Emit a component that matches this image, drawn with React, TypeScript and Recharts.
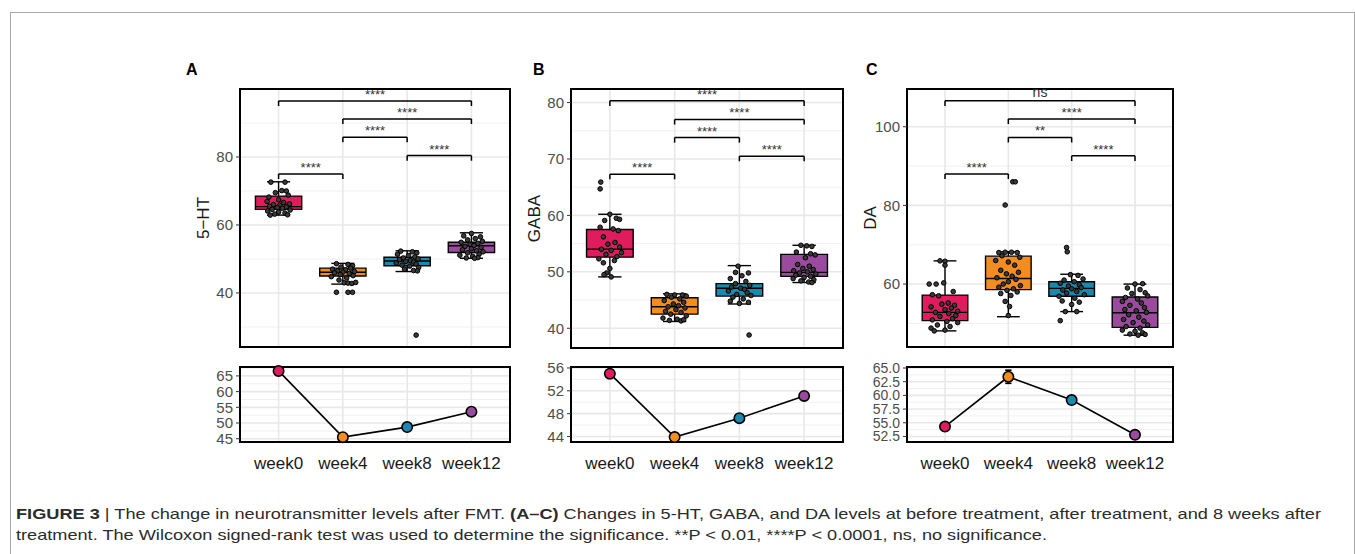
import React from 'react';
import {
  ComposedChart, Scatter, XAxis, YAxis, CartesianGrid, ReferenceArea,
  ReferenceLine, ReferenceDot, Line,
} from 'recharts';

// ---------- data ----------
const categories = ['week0', 'week4', 'week8', 'week12'];
const groupColors = ['#E01B5E', '#F38D1F', '#1C88AD', '#9B4B9D'];

// box stats per group: [lower whisker, q1, median, q3, upper whisker]
const box5HT = [[62.9, 64.6, 65.4, 68.5, 72.7], [42.6, 45.0, 46.1, 47.3, 48.7], [46.3, 48.0, 49.4, 50.5, 52.4], [50.2, 51.9, 53.9, 54.9, 57.7]];
const boxGABA = [[49.1, 52.6, 54.0, 57.5, 60.2], [41.2, 42.5, 43.8, 45.4, 46.1], [44.3, 45.7, 47.1, 47.9, 51.1], [48.1, 49.2, 49.9, 53.1, 54.7]];
const boxDA = [[48.1, 50.7, 52.8, 57.2, 65.9], [51.7, 58.6, 61.4, 67.1, 68.2], [53.0, 56.9, 58.9, 60.6, 62.5], [47.0, 49.0, 52.7, 56.7, 60.0]];

// jittered observations per group: [jitter (category units), value]
const pts5HT = [
  [[-0.12, 72.6], [0.1, 72.6], [0.05, 70.1], [0.12, 70.0], [-0.05, 69.5], [0.15, 68.8], [-0.15, 68.2], [0.0, 67.4], [-0.18, 66.9], [0.08, 66.6], [0.17, 66.2], [-0.08, 66.0], [0.02, 65.8], [-0.14, 65.5], [0.12, 65.3], [-0.02, 65.1], [0.06, 64.9], [-0.1, 64.6], [0.18, 64.4], [-0.17, 64.1], [0.0, 63.8], [0.1, 63.5], [-0.06, 63.2], [0.14, 63.0], [-0.13, 62.9]],
  [[-0.1, 48.6], [0.08, 48.4], [0.15, 48.0], [-0.03, 47.6], [0.12, 47.3], [-0.16, 47.0], [0.04, 46.8], [-0.08, 46.5], [0.18, 46.3], [0.0, 46.1], [-0.13, 45.9], [0.1, 45.7], [-0.04, 45.4], [0.16, 45.1], [-0.18, 44.8], [0.06, 44.4], [-0.06, 43.8], [0.02, 43.0], [0.08, 42.9], [0.14, 42.8], [0.2, 43.1], [-0.1, 40.2], [0.08, 40.2], [0.15, 40.2]],
  [[-0.1, 52.3], [0.08, 52.1], [0.15, 51.8], [-0.15, 51.4], [0.02, 51.0], [0.12, 50.6], [-0.06, 50.3], [0.17, 50.0], [-0.12, 49.8], [0.05, 49.5], [-0.02, 49.3], [0.1, 49.1], [-0.17, 48.8], [0.14, 48.5], [-0.08, 48.2], [0.04, 47.9], [0.18, 47.5], [-0.04, 47.0], [0.1, 46.6], [0.16, 46.5], [0.14, 27.6]],
  [[0.0, 57.5], [-0.12, 56.8], [0.14, 56.5], [0.06, 56.0], [-0.06, 55.6], [0.17, 55.2], [-0.16, 54.9], [0.1, 54.6], [-0.02, 54.3], [0.04, 54.0], [-0.1, 53.7], [0.15, 53.4], [0.0, 53.0], [-0.14, 52.7], [0.08, 52.4], [0.18, 52.1], [-0.06, 51.8], [0.12, 51.4], [-0.18, 51.1], [0.02, 50.8], [0.1, 50.4], [-0.08, 50.3], [0.05, 50.2]],
];
const ptsGABA = [
  [[-0.14, 65.9], [-0.15, 64.7], [0.0, 60.2], [0.1, 59.5], [0.15, 59.3], [-0.08, 59.1], [-0.15, 57.9], [0.05, 57.6], [0.13, 57.3], [-0.1, 56.2], [0.08, 55.2], [-0.03, 54.9], [0.15, 54.4], [-0.13, 54.0], [0.02, 53.8], [0.18, 53.4], [-0.06, 53.1], [0.11, 52.7], [-0.17, 52.3], [0.07, 52.0], [-0.1, 51.6], [0.0, 50.6], [-0.05, 49.8], [-0.09, 49.5], [0.02, 49.1]],
  [[-0.12, 46.0], [0.0, 45.9], [0.12, 45.9], [0.18, 45.7], [-0.05, 45.5], [0.08, 45.2], [-0.16, 44.9], [0.14, 44.6], [-0.02, 44.3], [0.06, 44.0], [-0.1, 43.8], [0.16, 43.6], [0.02, 43.3], [-0.14, 43.0], [0.1, 42.8], [-0.06, 42.5], [0.18, 42.2], [-0.18, 41.8], [0.04, 41.6], [-0.08, 41.4], [0.1, 41.3], [0.14, 41.5]],
  [[-0.02, 51.0], [-0.06, 49.9], [0.14, 49.8], [0.04, 49.3], [-0.14, 48.8], [0.1, 48.3], [-0.06, 47.9], [0.16, 47.6], [-0.12, 47.3], [0.02, 47.1], [0.08, 46.9], [-0.17, 46.6], [0.12, 46.3], [-0.04, 46.0], [0.18, 45.8], [-0.1, 45.5], [0.06, 45.2], [-0.14, 44.8], [0.14, 44.6], [0.0, 44.4], [0.15, 38.8]],
  [[-0.05, 54.7], [0.04, 54.6], [0.12, 54.5], [-0.12, 53.5], [0.1, 53.2], [0.17, 53.0], [0.02, 52.5], [-0.1, 51.3], [0.08, 51.0], [-0.02, 50.6], [0.14, 50.4], [-0.16, 50.2], [0.05, 50.0], [-0.07, 49.8], [0.18, 49.6], [-0.13, 49.4], [0.1, 49.2], [0.0, 49.0], [-0.17, 48.8], [0.15, 48.6], [-0.05, 48.4], [0.07, 48.2], [0.12, 48.1]],
];
const ptsDA = [
  [[-0.08, 65.9], [0.0, 65.8], [0.0, 64.8], [-0.25, 60.0], [-0.14, 60.0], [-0.02, 60.3], [0.13, 58.1], [-0.2, 57.3], [-0.1, 57.0], [0.05, 55.2], [-0.05, 54.9], [0.15, 54.6], [-0.22, 54.2], [0.1, 53.9], [0.0, 53.5], [0.2, 53.1], [-0.15, 52.8], [0.06, 52.5], [0.17, 52.0], [-0.08, 51.8], [0.12, 51.2], [-0.2, 50.9], [0.03, 50.5], [0.2, 50.2], [-0.12, 49.6], [0.08, 49.2], [-0.22, 48.8], [0.0, 48.3], [-0.17, 48.1]],
  [[0.07, 86.0], [0.11, 86.0], [-0.05, 80.1], [-0.15, 68.0], [-0.05, 68.1], [0.05, 68.1], [0.14, 68.0], [-0.1, 67.2], [0.18, 66.8], [-0.2, 66.0], [0.0, 65.6], [0.1, 64.8], [-0.12, 63.5], [0.16, 63.0], [-0.03, 62.6], [0.06, 62.0], [-0.18, 61.6], [0.12, 61.2], [0.0, 60.6], [-0.08, 60.0], [0.19, 59.6], [-0.15, 59.2], [0.08, 58.8], [-0.02, 58.4], [0.14, 58.0], [-0.12, 57.6], [0.04, 57.1], [-0.05, 55.6], [0.02, 54.3], [0.0, 52.0]],
  [[-0.08, 69.3], [-0.07, 68.2], [-0.02, 62.4], [0.1, 62.2], [0.18, 61.3], [-0.12, 61.0], [0.04, 60.6], [-0.18, 60.2], [0.12, 59.8], [-0.05, 59.5], [0.15, 59.1], [0.0, 58.8], [-0.14, 58.5], [0.08, 58.1], [-0.08, 57.7], [0.2, 57.3], [-0.2, 56.9], [0.05, 56.4], [0.12, 55.4], [-0.15, 55.7], [0.0, 54.8], [-0.1, 53.0], [0.08, 53.0], [-0.18, 50.7]],
  [[0.0, 60.0], [0.12, 60.1], [-0.12, 59.0], [0.08, 58.6], [0.16, 57.8], [-0.05, 57.6], [0.2, 57.0], [-0.15, 56.6], [0.04, 56.2], [-0.2, 55.6], [0.1, 55.2], [-0.08, 54.6], [0.15, 54.0], [-0.16, 53.5], [0.02, 53.2], [0.18, 52.8], [-0.1, 52.2], [0.06, 51.6], [-0.18, 51.0], [0.14, 50.6], [-0.03, 50.2], [0.2, 49.6], [-0.14, 49.2], [0.08, 48.8], [-0.2, 48.3], [0.0, 48.0], [0.12, 47.6], [-0.08, 47.3], [0.05, 47.0], [0.16, 47.2]],
];

// significance brackets: [from group, to group, bracket value, label]
const sig5HT = [[1, 2, 75.0, '****'], [1, 4, 96.5, '****'], [2, 4, 91.2, '****'], [2, 3, 85.8, '****'], [3, 4, 80.4, '****']];
const sigGABA = [[1, 2, 67.3, '****'], [1, 4, 80.3, '****'], [2, 4, 77.0, '****'], [2, 3, 73.8, '****'], [3, 4, 70.5, '****']];
const sigDA = [[1, 2, 88.0, '****'], [1, 4, 106.6, 'ns'], [2, 4, 102.0, '****'], [2, 3, 97.3, '**'], [3, 4, 92.6, '****']];

// group means with error
const mean5HT = [66.6, 45.5, 48.7, 53.6];
const err5HT = [0.6, 0.5, 0.5, 0.5];
const meanGABA = [55.0, 43.9, 47.2, 51.1];
const errGABA = [0.5, 0.3, 0.4, 0.4];
const meanDA = [54.3, 63.4, 59.15, 52.8];
const errDA = [0.7, 1.2, 0.5, 0.6];

// axis settings
const ticksTop5HT = [40, 60, 80];
const minorTop5HT = [30, 50, 70, 90];
const ticksTopGABA = [40, 50, 60, 70, 80];
const minorTopGABA = [45, 55, 65, 75];
const ticksTopDA = [60, 80, 100];
const minorTopDA = [50, 70, 90];
const ticksBot5HT = [45, 50, 55, 60, 65];
const minorBot5HT = [47.5, 52.5, 57.5, 62.5, 67.5];
const ticksBotGABA = [44, 48, 52, 56];
const minorBotGABA = [46, 50, 54];
const ticksBotDA = [52.5, 55, 57.5, 60, 62.5, 65];
const minorBotDA = [53.75, 56.25, 58.75, 61.25, 63.75];

const FONT = '"Liberation Sans", Arial, Helvetica, sans-serif';
const X_DOMAIN = [0.4, 4.6];
const GROUP_X = [1, 2, 3, 4];

const panels = [
  {
    letter: 'A', title: '5\u2212HT',
    top: { left: 240, top: 89, width: 270, height: 258 }, bottom: { left: 240, top: 367, width: 270, height: 75 },
    topDomain: [24.1, 100], topTicks: ticksTop5HT, topMinor: minorTop5HT,
    botDomain: [43.96, 67.84], botTicks: ticksBot5HT, botMinor: minorBot5HT, botFont: 15,
    box: box5HT, pts: pts5HT, sig: sig5HT, tip: 1.5, mean: mean5HT, err: err5HT, fmt: (v) => String(v),
    letterX: 186,
  },
  {
    letter: 'B', title: 'GABA',
    top: { left: 571, top: 89, width: 272, height: 259 }, bottom: { left: 571, top: 367, width: 272, height: 75 },
    topDomain: [36.5, 82.4], topTicks: ticksTopGABA, topMinor: minorTopGABA,
    botDomain: [43.03, 56.17], botTicks: ticksBotGABA, botMinor: minorBotGABA, botFont: 15,
    box: boxGABA, pts: ptsGABA, sig: sigGABA, tip: 0.9, mean: meanGABA, err: errGABA, fmt: (v) => String(v),
    letterX: 533,
  },
  {
    letter: 'C', title: 'DA',
    top: { left: 907, top: 89, width: 266, height: 258 }, bottom: { left: 907, top: 367, width: 266, height: 75 },
    topDomain: [44, 109.6], topTicks: ticksTopDA, topMinor: minorTopDA,
    botDomain: [51.49, 65.18], botTicks: ticksBotDA, botMinor: minorBotDA, botFont: 14,
    box: boxDA, pts: ptsDA, sig: sigDA, tip: 1.3, mean: meanDA, err: errDA, fmt: (v) => v.toFixed(1),
    letterX: 866,
  },
];

const AXIS_W = 70;
const BOX_HALF = 0.36;
const CAP_HALF = 0.18;
const ERR_CAP_HALF = 0.05;

const yTitle = (text) => (props) => {
  const vb = props.viewBox || {};
  const cx = vb.x + vb.width - 37;
  const cy = vb.y + vb.height / 2;
  return (
    <text x={cx} y={cy} transform={`rotate(-90 ${cx} ${cy})`} textAnchor="middle"
      dominantBaseline="central" fontSize={17} fill="#1a1a1a" fontFamily={FONT}>{text}</text>
  );
};

const pointShape = (props) => (
  <circle cx={props.cx} cy={props.cy} r={2.3} fill="#3a3a3a" stroke="#000" strokeWidth={1} />
);

const meanShape = (props) => (
  <circle cx={props.cx} cy={props.cy} r={5.2} fill={groupColors[props.index]} stroke="#000" strokeWidth={1.6} />
);

function TopPanel({ p }) {
  const r = p.top;
  const m = { top: 10, right: 10, bottom: 10, left: 0 };
  const data = p.pts.flatMap((grp, gi) => grp.map(([dx, y]) => ({ x: GROUP_X[gi] + dx, y })));
  const els = [];
  p.box.forEach(([lo, q1, med, q3, hi], i) => {
    const x = GROUP_X[i];
    els.push(<ReferenceLine key={`wl${i}`} segment={[{ x, y: lo }, { x, y: q1 }]} stroke="#000" strokeWidth={1.4} />);
    els.push(<ReferenceLine key={`wh${i}`} segment={[{ x, y: q3 }, { x, y: hi }]} stroke="#000" strokeWidth={1.4} />);
    els.push(<ReferenceLine key={`cl${i}`} segment={[{ x: x - CAP_HALF, y: lo }, { x: x + CAP_HALF, y: lo }]} stroke="#000" strokeWidth={1.4} />);
    els.push(<ReferenceLine key={`ch${i}`} segment={[{ x: x - CAP_HALF, y: hi }, { x: x + CAP_HALF, y: hi }]} stroke="#000" strokeWidth={1.4} />);
    els.push(<ReferenceArea key={`b${i}`} x1={x - BOX_HALF} x2={x + BOX_HALF} y1={q1} y2={q3} fill={groupColors[i]} fillOpacity={1} stroke="#000" strokeWidth={1.4} />);
    els.push(<ReferenceLine key={`m${i}`} segment={[{ x: x - BOX_HALF, y: med }, { x: x + BOX_HALF, y: med }]} stroke="#000" strokeWidth={1.4} />);
  });
  const sigEls = [];
  p.sig.forEach(([a, b, y, lab], i) => {
    sigEls.push(<ReferenceLine key={`sh${i}`} segment={[{ x: a, y }, { x: b, y }]} stroke="#000" strokeWidth={1.5} />);
    sigEls.push(<ReferenceLine key={`sa${i}`} segment={[{ x: a, y }, { x: a, y: y - p.tip }]} stroke="#000" strokeWidth={1.5} />);
    sigEls.push(<ReferenceLine key={`sb${i}`} segment={[{ x: b, y }, { x: b, y: y - p.tip }]} stroke="#000" strokeWidth={1.5} />);
    sigEls.push(<ReferenceDot key={`sl${i}`} x={(a + b) / 2} y={y} r={1} fill="none" stroke="none"
      label={{ value: lab, position: 'top', offset: lab === 'ns' ? 3 : 1, fontSize: lab === 'ns' ? 14 : 13, fill: '#333', fontFamily: FONT }} />);
  });
  return (
    <div style={{ position: 'absolute', left: r.left - AXIS_W - m.left, top: r.top - m.top }}>
      <ComposedChart width={r.width + AXIS_W + m.left + m.right} height={r.height + m.top + m.bottom} margin={m}>
        <CartesianGrid horizontalValues={p.topMinor} vertical={false} stroke="#f0f0f0" strokeWidth={1} />
        <CartesianGrid horizontalValues={p.topTicks} verticalValues={GROUP_X} stroke="#e8e8e8" strokeWidth={1.6} />
        <XAxis type="number" dataKey="x" domain={X_DOMAIN} hide allowDataOverflow />
        <YAxis type="number" dataKey="y" domain={p.topDomain} ticks={p.topTicks} interval={0} width={AXIS_W}
          allowDataOverflow axisLine={false} tickSize={4} tickMargin={3} tickLine={{ stroke: '#333' }}
          tick={{ fontSize: 15, fill: '#4d4d4d', fontFamily: FONT }} label={yTitle(p.title)} />
        {els}
        {sigEls}
        <Scatter data={data} dataKey="y" isAnimationActive={false} shape={pointShape} />
        <ReferenceArea x1={X_DOMAIN[0]} x2={X_DOMAIN[1]} y1={p.topDomain[0]} y2={p.topDomain[1]} fill="none" stroke="#000" strokeWidth={2} />
      </ComposedChart>
    </div>
  );
}

function BottomPanel({ p }) {
  const r = p.bottom;
  const xAxisH = 40;
  const m = { top: 10, right: 10, bottom: 0, left: 0 };
  const data = categories.map((c, i) => ({ x: GROUP_X[i], mean: p.mean[i], err: p.err[i] }));
  const errEls = [];
  data.forEach((d, i) => {
    const lo = d.mean - d.err;
    const hi = d.mean + d.err;
    errEls.push(<ReferenceLine key={`ev${i}`} segment={[{ x: d.x, y: lo }, { x: d.x, y: hi }]} stroke="#000" strokeWidth={1.6} />);
    errEls.push(<ReferenceLine key={`el${i}`} segment={[{ x: d.x - ERR_CAP_HALF, y: lo }, { x: d.x + ERR_CAP_HALF, y: lo }]} stroke="#000" strokeWidth={1.6} />);
    errEls.push(<ReferenceLine key={`eh${i}`} segment={[{ x: d.x - ERR_CAP_HALF, y: hi }, { x: d.x + ERR_CAP_HALF, y: hi }]} stroke="#000" strokeWidth={1.6} />);
  });
  return (
    <div style={{ position: 'absolute', left: r.left - AXIS_W - m.left, top: r.top - m.top }}>
      <ComposedChart data={data} width={r.width + AXIS_W + m.left + m.right} height={r.height + m.top + m.bottom + xAxisH} margin={m}>
        <CartesianGrid horizontalValues={p.botMinor} vertical={false} stroke="#f0f0f0" strokeWidth={1} />
        <CartesianGrid horizontalValues={p.botTicks} verticalValues={GROUP_X} stroke="#e8e8e8" strokeWidth={1.6} />
        <XAxis type="number" dataKey="x" domain={X_DOMAIN} ticks={GROUP_X} interval={0} allowDataOverflow height={xAxisH}
          axisLine={false} tickLine={false} tickMargin={9}
          tickFormatter={(v) => categories[v - 1]} tick={{ fontSize: 17, fill: '#1a1a1a', fontFamily: FONT }} />
        <YAxis type="number" domain={p.botDomain} ticks={p.botTicks} interval={0} width={AXIS_W}
          axisLine={false} tickSize={4} tickMargin={3} tickLine={{ stroke: '#333' }} tickFormatter={p.fmt}
          tick={{ fontSize: p.botFont, fill: '#4d4d4d', fontFamily: FONT }} />
        {errEls}
        <Line dataKey="mean" stroke="#000" strokeWidth={1.6} isAnimationActive={false} dot={false} activeDot={false} />
        <Scatter dataKey="mean" isAnimationActive={false} shape={meanShape} />
        <ReferenceArea x1={X_DOMAIN[0]} x2={X_DOMAIN[1]} y1={p.botDomain[0]} y2={p.botDomain[1]} fill="none" stroke="#000" strokeWidth={2} />
      </ComposedChart>
    </div>
  );
}

export default function App() {
  return (
    <div style={{ position: 'absolute', left: 0, top: 0, width: 1355, height: 554, overflow: 'hidden', background: '#fff', fontFamily: FONT }}>
      <div style={{ position: 'absolute', left: 10, top: 12, width: 1343, height: 700, borderLeft: '1px solid #a8a8a8', borderRight: '1px solid #a8a8a8', borderTop: '1px solid #a8a8a8' }} />
      {panels.map((p) => (
        <React.Fragment key={p.letter}>
          <div style={{ position: 'absolute', left: p.letterX, top: 60, fontSize: 16, fontWeight: 'bold', color: '#000', lineHeight: '20px' }}>{p.letter}</div>
          <TopPanel p={p} />
          <BottomPanel p={p} />
        </React.Fragment>
      ))}
      <svg width={1355} height={60} style={{ position: 'absolute', left: 0, top: 494 }}>
        <text x={16} y={25} fontSize={15} fill="#2b2b2b" fontFamily={FONT} textLength={1305} lengthAdjust="spacingAndGlyphs">
          <tspan fontWeight="bold">FIGURE 3</tspan>
          <tspan> | The change in neurotransmitter levels after FMT. </tspan>
          <tspan fontWeight="bold">(A–C)</tspan>
          <tspan> Changes in 5-HT, GABA, and DA levels at before treatment, after treatment, and 8 weeks after</tspan>
        </text>
        <text x={16} y={46} fontSize={15} fill="#2b2b2b" fontFamily={FONT} textLength={1031} lengthAdjust="spacingAndGlyphs">
          treatment. The Wilcoxon signed-rank test was used to determine the significance. **P &lt; 0.01, ****P &lt; 0.0001, ns, no significance.
        </text>
      </svg>
    </div>
  );
}
